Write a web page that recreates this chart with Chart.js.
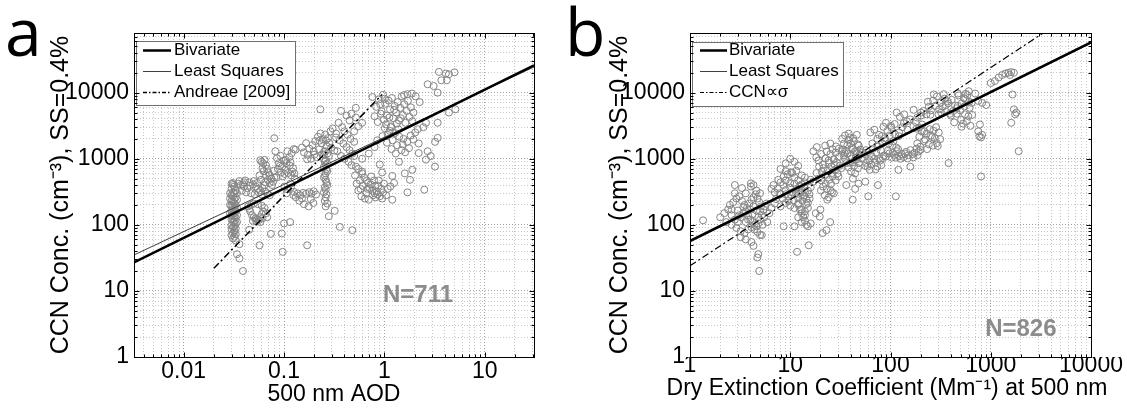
<!DOCTYPE html>
<html>
<head>
<meta charset="utf-8">
<script src="https://cdn.jsdelivr.net/npm/chart.js@4.4.0/dist/chart.umd.min.js"></script>
<style>
html, body { margin: 0; padding: 0; background: #fff; }
#wrap { position: relative; width: 1127px; height: 414px; overflow: hidden; }
canvas { position: absolute; top: 0; }
#ca { left: 0; }
#cb { left: 563px; }
.tag { position: absolute; top: -3px; font-family: "Open Sans", sans-serif; font-size: 66px; line-height: 1; color: #000; }
</style>
</head>
<body>
<div id="wrap">
  <canvas id="ca" width="563" height="414"></canvas>
  <canvas id="cb" width="564" height="414"></canvas>
  <div class="tag" style="left:5px">a</div>
  <div class="tag" style="left:565px">b</div>
</div>
<script>
// axis ticks
const yTickValues = [1, 10, 100, 1000, 10000];
const yTickLabels = ['1', '10', '100', '1000', '10000'];
const aodTickValues = [0.01, 0.1, 1, 10];
const aodTickLabels = ['0.01', '0.1', '1', '10'];
const extTickValues = [1, 10, 100, 1000, 10000];
const extTickLabels = ['1', '10', '100', '1000', '10000'];

// panel a : CCN vs AOD
const aodPoints = [
  // dense column at AOD ~0.03
  [0.030,420],[0.031,400],[0.032,380],[0.030,350],[0.033,330],[0.031,310],[0.032,300],[0.030,280],[0.031,270],[0.033,260],
  [0.032,240],[0.030,230],[0.031,225],[0.032,210],[0.033,200],[0.030,195],[0.031,190],[0.032,180],[0.031,170],[0.030,165],
  [0.033,160],[0.032,150],[0.031,145],[0.030,140],[0.032,135],[0.033,128],[0.031,125],[0.030,120],[0.032,112],[0.031,110],
  [0.033,105],[0.030,98],[0.032,95],[0.031,92],[0.033,88],[0.030,86],[0.032,80],[0.031,75],[0.033,72],[0.030,70],
  [0.032,66],[0.031,62],[0.033,58],[0.034,140],[0.034,180],[0.034,240],[0.029,300],[0.029,200],[0.029,150],[0.034,110],
  [0.031,430],[0.029,250],[0.034,300],
  [0.034,36],[0.036,31],[0.039,20],[0.036,51],[0.045,84],[0.057,49],
  // loop around 0.04-0.07
  [0.035,420],[0.037,400],[0.040,380],[0.043,360],[0.046,390],[0.049,410],[0.052,380],[0.055,350],[0.058,330],[0.061,360],
  [0.064,400],[0.038,330],[0.042,310],[0.047,300],[0.051,290],[0.056,310],[0.060,290],[0.036,460],[0.041,470],[0.045,440],
  [0.050,460],[0.054,430],[0.065,320],[0.068,300],[0.072,280],[0.040,440],[0.039,410],
  // C-shaped group
  [0.044,190],[0.046,160],[0.048,140],[0.050,130],[0.052,125],[0.054,120],[0.056,118],[0.058,130],[0.060,145],[0.062,160],
  [0.064,180],[0.047,200],[0.050,210],[0.055,205],[0.060,195],[0.066,150],[0.068,130],[0.049,115],[0.053,112],[0.058,110],
  [0.061,125],[0.045,175],
  // 0.055-0.08, 400-1000
  [0.058,950],[0.060,900],[0.062,850],[0.064,960],[0.066,800],[0.068,700],[0.070,620],[0.072,560],[0.075,500],[0.063,650],
  [0.066,560],[0.069,480],[0.072,430],[0.076,400],[0.078,450],[0.080,520],[0.061,720],[0.057,560],[0.059,480],[0.065,440],
  // 0.08-0.13
  [0.082,1300],[0.085,1020],[0.089,860],[0.092,1110],[0.096,760],[0.099,940],[0.103,680],[0.106,860],[0.110,610],[0.114,790],
  [0.118,560],[0.123,720],[0.128,500],[0.087,700],[0.093,620],[0.097,540],[0.101,590],[0.084,520],[0.079,660],[0.108,1300],
  [0.113,1060],[0.119,1210],[0.125,1400],[0.130,1370],[0.080,2050],[0.116,880],[0.121,640],[0.127,600],[0.091,780],[0.104,960],
  // 0.1-0.23, 190-420
  [0.101,380],[0.108,345],[0.117,365],[0.126,315],[0.137,298],[0.146,280],[0.155,305],[0.166,295],[0.178,312],[0.188,296],
  [0.198,322],[0.209,288],[0.142,232],[0.158,205],[0.176,190],[0.196,214],[0.151,250],[0.131,262],[0.116,420],[0.106,300],
  [0.124,282],[0.185,245],
  // low scatter
  [0.095,74],[0.097,39],[0.170,49],[0.360,93],[0.480,83],[0.320,163],[0.280,135],[0.115,110],[0.100,105],[0.074,73],
  // 0.15-0.33, 1000-2900
  [0.151,1480],[0.158,1250],[0.166,1720],[0.173,1150],[0.179,1420],[0.186,1000],[0.192,1610],[0.198,1290],[0.205,1850],[0.211,1060],
  [0.218,2150],[0.224,1390],[0.231,2420],[0.237,1710],[0.244,1980],[0.251,1280],[0.258,2320],[0.266,1560],[0.274,2050],[0.283,1740],
  [0.295,1470],[0.305,2880],[0.318,1330],[0.290,2600],[0.330,2400],[0.170,980],[0.200,1150],[0.226,1880],[0.262,1900],[0.240,1170],
  [0.230,5600],
  // column at AOD ~0.26
  [0.250,1000],[0.260,950],[0.255,900],[0.270,850],[0.260,800],[0.250,750],[0.265,700],[0.270,650],[0.260,600],[0.255,560],
  [0.250,520],[0.260,480],[0.265,440],[0.270,400],[0.255,370],[0.260,340],[0.250,310],[0.265,290],[0.260,260],[0.255,230],
  [0.270,210],[0.260,190],[0.280,1100],[0.270,1200],[0.260,1300],[0.250,1150],
  // 0.33-0.6
  [0.370,5300],[0.420,4500],[0.350,3500],[0.380,3000],[0.400,2600],[0.430,2300],[0.460,2000],[0.500,1800],[0.330,2100],[0.360,1900],
  [0.390,1700],[0.420,1500],[0.450,1350],[0.480,1200],[0.500,1100],[0.340,1300],[0.370,1100],[0.400,1000],[0.440,900],[0.470,800],
  [0.520,760],[0.550,700],[0.600,640],[0.500,2600],[0.550,3100],[0.600,3500],[0.450,3800],[0.520,4200],[0.520,5900],[0.470,4800],
  // 0.5-1.1, 230-600
  [0.51,560],[0.57,470],[0.63,520],[0.69,430],[0.74,540],[0.81,390],[0.88,470],[0.93,350],[0.55,330],[0.61,390],
  [0.66,300],[0.71,360],[0.77,280],[0.84,320],[0.90,270],[0.97,310],[0.53,420],[0.59,270],[0.64,250],[0.70,240],
  [0.76,330],[0.82,260],[0.87,390],[0.99,420],[1.04,280],[1.08,350],[0.60,600],[0.67,470],[0.73,410],[0.79,470],
  [0.86,290],[0.95,250],[0.58,350],[0.68,350],[0.80,300],
  // upper right group
  [0.76,8600],[0.83,6100],[0.88,7900],[0.94,5200],[0.97,9300],[1.02,6800],[1.06,4500],[1.10,7600],[1.14,5600],[1.19,8300],
  [1.23,4100],[1.27,6300],[1.31,5000],[1.36,7200],[1.40,3800],[1.44,5900],[1.49,8800],[1.53,4600],[1.58,6700],[1.62,3500],
  [1.67,5300],[1.72,7500],[1.78,4300],[1.84,6000],[1.90,3700],[0.80,4400],[0.86,3600],[0.92,4800],[0.99,3900],[1.04,3300],
  [1.12,4200],[1.17,3100],[1.25,5500],[1.33,3400],[1.46,4100],[1.57,9200],[1.70,9500],[1.88,9700],[2.05,8800],[2.25,7200],
  [1.95,5000],[1.01,8100],[0.91,6700],
  // 1-2.6, 1200-3500
  [1.01,2900],[1.08,2300],[1.13,2650],[1.21,1900],[1.28,2450],[1.34,1600],[1.41,2150],[1.48,1350],[1.55,2000],[1.61,1250],
  [1.69,1800],[1.76,1450],[1.83,2250],[1.95,1950],[2.03,2500],[1.06,1750],[1.18,1400],[1.30,1200],[1.52,1650],[2.15,2800],
  [2.45,3000],[2.60,3500],[2.20,1700],[0.96,2200],[1.16,3000],[1.38,2800],
  // outer scatter
  [3.5,20600],[4.1,19500],[5.0,20300],[4.4,19000],[3.7,15400],[4.2,15400],[2.7,13400],[3.1,12600],[3.4,10000],[5.1,5600],
  [4.4,5000],[3.4,3500],[3.4,2070],[2.6,970],[3.2,760],[2.5,340],[2.2,1220],[1.9,680],[1.7,310],[1.2,240],
  [1.25,430],[1.15,380],[2.7,1300],[2.9,1100],[3.2,1800],[0.90,820],[0.95,620],[1.20,550],[1.40,900],[1.60,600],
  [1.80,480],[0.60,1000],[0.70,1200],[0.80,1500],[0.85,1900]
];
const aodBivariate = [[0.0032, 27], [31, 26000]];
const aodLeastSquares = [[0.0032, 35], [31, 24500]];
const aodAndreae = [[0.02, 22], [0.95, 9400]];

// panel b : CCN vs dry extinction
const extPoints = [
  // 2-6 Mm-1
  [2.0,130],[2.2,150],[2.4,170],[2.6,140],[2.8,120],[3.0,110],[3.2,130],[3.4,150],[3.6,160],[3.8,140],
  [4.0,120],[4.2,110],[4.4,100],[4.6,95],[4.8,105],[5.0,120],[5.2,140],[5.4,170],[5.6,190],[5.8,210],
  [2.5,200],[2.7,220],[2.9,250],[3.1,270],[3.3,230],[3.5,200],[3.7,180],[3.9,210],[4.1,240],[4.3,260],
  [4.5,290],[4.7,250],[4.9,220],[5.1,190],[2.6,100],[2.9,90],[3.2,80],[3.5,75],[3.8,85],[4.1,92],
  [4.4,85],[4.7,78],[5.0,70],[3.0,165],[3.4,185],[3.8,120],[4.2,145],[4.6,165],[5.0,160],[5.5,130],
  [5.9,110],[6.2,150],[6.5,180],[2.3,110],[2.6,170],[3.1,140],[3.6,110],[4.0,170],[4.3,190],[4.8,130],
  [5.3,100],[2.8,300],[3.6,300],[4.3,400],[4.6,330],[5.0,300],[3.3,360],[2.8,400],[4.05,425],[4.05,380],
  [1.35,117],[4.1,55],[4.3,48],[4.7,32],[4.8,36],[4.9,20],[3.6,60],[3.2,65],[5.2,70],
  // 7-17 Mm-1
  [7.0,310],[7.5,355],[8.0,290],[8.5,400],[9.0,335],[9.5,270],[10,365],[10.5,310],[11,420],[11.5,350],
  [12,295],[12.5,390],[13,330],[13.5,265],[14,310],[14.5,245],[15,330],[15.5,290],[16,370],[7.2,245],
  [7.8,300],[8.4,250],[9.0,290],[9.6,230],[10.2,280],[10.8,235],[11.4,300],[12,255],[12.6,305],[13.2,230],
  [13.8,280],[14.4,205],[15,215],[15.6,250],[8.0,440],[9.0,470],[10,430],[11,520],[12,470],[13,410],
  [14,440],[8.6,540],[9.4,580],[10.5,610],[11.5,660],[7.6,480],[6.8,400],[6.5,350],[7.0,210],[8.0,190],
  [9.0,215],[10,195],[11,180],[12,210],[13,170],[14,160],[15,180],[10,1000],[11,900],[9.0,850],
  [12,780],[8.0,700],[9.0,650],[10.2,620],[13,560],[14,520],[16,480],[17,450],
  [12,200],[12.5,170],[13,150],[13.5,130],[14,115],[14.5,100],[15,95],[12,130],[13,110],[14,140],
  [19.7,133],[15.3,49],[11.7,39],[8.6,95],[11,95],[16,105],[18,150],[23,83],[21,75],[25,110],[20,170],
  // 17-35 Mm-1
  [17,1300],[18.2,1050],[19.1,940],[20.3,1180],[21.2,820],[22.4,1010],[23.1,1290],[24.3,870],[25.2,1180],[26.4,1390],
  [27.1,980],[28.3,1240],[29.2,880],[30.4,1060],[31.1,780],[32.3,720],[19.4,760],[20.6,640],[21.5,720],[22.2,560],
  [23.6,660],[24.1,940],[25.7,760],[26.2,610],[27.5,820],[28.1,690],[29.6,600],[30.2,540],[18.3,610],[19.2,500],
  [20.4,470],[22.6,420],[24.5,480],[26.6,540],[28.4,470],[21.3,380],[23.2,350],[25.3,330],[27.2,300],[22.1,280],
  [24.2,260],[26.1,310],[20.2,330],[23.4,240],[25.5,420],[18.4,1500],[22.3,1580],[25.1,1700],[28.6,1540],[30.5,1420],
  [33,1300],[35,1200],
  // 33-52 Mm-1
  [33,2000],[35.2,2250],[37.1,1600],[39.3,2100],[41.2,1450],[43.1,1850],[45.4,1300],[47.2,1650],[49.1,1150],[34.3,1700],
  [36.1,1320],[38.4,1900],[40.2,1100],[42.3,1400],[44.1,950],[46.2,1200],[48.3,860],[33.4,1380],[35.3,1000],[37.2,1200],
  [39.4,870],[41.1,1010],[43.3,780],[45.2,1050],[47.4,720],[36.3,860],[38.2,740],[40.4,640],[42.1,880],[44.3,600],
  [34.2,1120],[40.1,1700],[44.2,1300],[46.4,980],[38.3,2400],[42.4,2050],[48.2,1580],[50.1,1380],[52.2,1240],[46.1,2300],
  [36.2,400],[42.2,500],[44.4,350],[42,240],[48,420],[56,450],[56,780],
  // 52-90 Mm-1
  [52,1010],[55,1180],[57,870],[60,1260],[62,950],[65,1090],[67,1420],[70,880],[72,1220],[75,1530],
  [77,1010],[80,1340],[83,1700],[86,1120],[88,1890],[59,760],[64,820],[69,1000],[74,760],[79,940],
  [84,1020],[62,680],[71,690],[81,800],[66,1700],[74,2000],[82,2200],[75,400],[60,270],[57,1350],
  // 63-122 Mm-1
  [63,2500],[69,2750],[77,2300],[85,3050],[93,2650],[102,2950],[111,2350],[121,2200],[88,2050],[98,2250],
  [107,1850],[96,1700],[104,1580],[114,1480],[119,1400],[101,3150],[110,3350],[90,3500],
  // 90-200 band
  [90,1080],[97,1200],[103,1040],[109,1150],[116,1300],[122,1090],[129,1180],[136,1060],[143,1270],[151,1130],
  [158,1350],[166,1180],[174,1230],[182,1420],[191,1290],[199,1360],[126,1000],[148,1010],[169,1050],[94,1310],
  [113,1040],[139,1200],[158,760],[113,270],[120,680],[105,1220],[186,1130],
  // 110-220 upper
  [115,5000],[124,4300],[137,4700],[146,3700],[157,3950],[169,3100],[178,3600],[193,2950],[207,3300],[218,2600],
  [131,3000],[148,2750],[170,5500],[201,5000],[122,2500],[136,3450],[185,4200],
  // 180-310
  [182,2850],[194,2150],[205,2600],[217,1850],[229,2400],[241,1650],[253,2250],[265,1580],[277,2050],[290,1720],
  [303,2500],[313,1980],[198,1520],[222,1960],[246,2800],[268,2650],[285,3000],[232,1400],[185,1700],[296,1560],
  [260,2130],
  // 200-460 upper
  [202,4500],[214,5300],[228,4700],[241,6100],[253,5400],[266,7600],[279,6300],[291,8800],[305,5600],[318,7100],
  [332,6200],[347,8100],[361,5100],[376,6900],[392,4800],[408,7800],[423,5300],[441,6400],[458,5800],[236,7300],
  [271,9400],[301,4700],[340,9500],[372,7400],[400,4500],[250,4650],[320,5000],[355,6500],
  // 430-900
  [478,9100],[514,6900],[556,8000],[598,4400],[645,7000],[496,5400],[538,8300],[577,3700],[616,5900],[458,4800],
  [507,3900],[548,6200],[585,9200],[628,3150],[652,4600],[432,3550],[468,6300],[512,3050],[553,4700],[470,9700],
  [560,9600],[604,10500],[700,9700],[750,7500],[820,7000],[900,6500],[780,3300],[750,2600],[820,2300],[800,2100],
  [530,3400],[610,7300],
  // right outliers
  [1000,14000],[1100,15000],[1200,17000],[1300,18500],[1400,19500],[1500,20000],[1600,20500],[1700,20000],[1550,18500],[1650,9400],
  [1700,5600],[1800,5000],[1600,3500],[1900,1300],[770,2190],[800,540],[380,860],[1750,4700]
];
const extBivariate = [[1, 57], [10000, 57500]];
const extLeastSquares = [[1, 55], [10000, 56000]];
const extProportional = [[1, 24], [3400, 81600]];

const nLabelA = 'N=711';
const nLabelB = 'N=826';

function toXY(arr) { return arr.map(p => ({x: p[0], y: p[1]})); }
function isDecade(v) { const l = Math.log10(v); return Math.abs(l - Math.round(l)) < 1e-6; }
function logTicks(min, max) {
  const out = [];
  for (let e = Math.floor(Math.log10(min)); e <= Math.ceil(Math.log10(max)); e++) {
    for (let m = 1; m < 10; m++) {
      const v = m * Math.pow(10, e);
      if (v >= min * 0.9999 && v <= max * 1.0001) out.push({value: v});
    }
  }
  return out;
}
function labelFor(values, labels) {
  return function(v) {
    const i = values.findIndex(t => Math.abs(Math.log10(t) - Math.log10(v)) < 1e-6);
    return i >= 0 ? labels[i] : '';
  };
}
const gridColor = ctx => (ctx.tick && isDecade(ctx.tick.value)) ? '#a0a0a0' : '#c8c8c8';

const framePlugin = {
  id: 'frame',
  afterDraw(chart, args, opts) {
    const {ctx, chartArea: a, scales} = chart;
    ctx.save();
    // legend box
    const lg = opts.legend;
    ctx.fillStyle = '#fff';
    ctx.fillRect(lg.x, lg.y, lg.w, lg.h);
    ctx.strokeStyle = '#707070';
    ctx.lineWidth = 1;
    ctx.strokeRect(lg.x + 0.5, lg.y + 0.5, lg.w, lg.h);
    ctx.font = '17px "Liberation Sans", Arial, sans-serif';
    ctx.textBaseline = 'middle';
    ctx.textAlign = 'left';
    chart.data.datasets.filter(d => d.inLegend).forEach((d, i) => {
      const y = lg.rows[i] + 0.5;
      ctx.beginPath();
      ctx.setLineDash(d.legendDash || []);
      ctx.lineWidth = d.borderWidth;
      ctx.strokeStyle = d.borderColor;
      ctx.moveTo(lg.x1, y);
      ctx.lineTo(lg.x2, y);
      ctx.stroke();
      ctx.setLineDash([]);
      ctx.fillStyle = '#000';
      ctx.fillText(d.label, lg.tx, y);
    });
    // wide x title (not squeezed to the axis width)
    if (opts.xTitle) {
      ctx.font = opts.xTitle.size + 'px "Liberation Sans", Arial, sans-serif';
      ctx.fillStyle = '#000';
      ctx.textAlign = 'center';
      ctx.fillText(opts.xTitle.text, opts.xTitle.x, opts.xTitle.y);
    }
    // N label
    ctx.font = 'bold 24px "Liberation Sans", Arial, sans-serif';
    ctx.fillStyle = '#8c8c8c';
    ctx.textAlign = 'center';
    ctx.fillText(opts.nText, a.left + opts.nPos[0] * (a.right - a.left), a.top + opts.nPos[1] * (a.bottom - a.top));
    // box and inward ticks
    const L = Math.round(a.left) + 0.5, R = Math.round(a.right) + 0.5;
    const T = Math.round(a.top) + 0.5, B = Math.round(a.bottom) + 0.5;
    ctx.strokeStyle = '#000';
    ctx.lineWidth = 1;
    ctx.strokeRect(L, T, R - L, B - T);
    ctx.beginPath();
    scales.x.ticks.forEach(t => {
      const px = Math.round(scales.x.getPixelForValue(t.value)) + 0.5;
      const len = isDecade(t.value) ? 5 : 3;
      ctx.moveTo(px, B); ctx.lineTo(px, B - len);
      ctx.moveTo(px, T); ctx.lineTo(px, T + len);
    });
    scales.y.ticks.forEach(t => {
      const py = Math.round(scales.y.getPixelForValue(t.value)) + 0.5;
      const len = isDecade(t.value) ? 5 : 3;
      ctx.moveTo(L, py); ctx.lineTo(L + len, py);
      ctx.moveTo(R, py); ctx.lineTo(R - len, py);
    });
    ctx.stroke();
    ctx.restore();
  }
};

function makeChart(id, p) {
  const font = {family: '"Liberation Sans", Arial, sans-serif'};
  return new Chart(document.getElementById(id), {
    type: 'scatter',
    data: {
      datasets: [
        {label: 'Bivariate', data: toXY(p.biv), showLine: true, pointRadius: 0, borderColor: '#000', borderWidth: 2.5, inLegend: true},
        {label: 'Least Squares', data: toXY(p.ls), showLine: true, pointRadius: 0, borderColor: '#404040', borderWidth: 1, inLegend: true},
        {label: p.refLabel, data: toXY(p.ref), showLine: true, pointRadius: 0, borderColor: '#000', borderWidth: p.refWidth,
          borderDash: [7, 3, 2, 3], legendDash: [4, 2, 1.5, 2], inLegend: true},
        {label: 'data', data: toXY(p.points), showLine: false, pointRadius: 3.5, pointBorderWidth: 1,
          pointBorderColor: '#858585', pointBackgroundColor: 'rgba(0,0,0,0)'}
      ]
    },
    options: {
      responsive: false,
      animation: false,
      layout: {padding: {left: 0, top: 33, right: p.padRight, bottom: 0}},
      plugins: {
        legend: {display: false},
        tooltip: {enabled: false},
        frame: {legend: p.legend, nText: p.nText, nPos: p.nPos, xTitle: p.freeTitle}
      },
      scales: {
        x: {
          type: 'logarithmic', min: p.xMin, max: p.xMax,
          afterBuildTicks: s => { s.ticks = logTicks(s.min, s.max); },
          afterFit: s => { s.height = 57; },
          grid: {color: gridColor, lineWidth: 1, drawTicks: false},
          border: {display: false, dash: [1, 2]},
          ticks: {autoSkip: false, maxRotation: 0, padding: p.xTickPad, color: '#000',
            font: Object.assign({size: 23}, font), callback: labelFor(p.xTickValues, p.xTickLabels)},
          title: {display: !!p.xTitle, text: p.xTitle, color: '#000', font: Object.assign({size: 23}, font),
            padding: {top: 0, bottom: p.xTitlePad}}
        },
        y: {
          type: 'logarithmic', min: 1, max: 80000,
          afterBuildTicks: s => { s.ticks = logTicks(s.min, s.max); },
          afterFit: s => { s.width = p.yWidth; },
          grid: {color: gridColor, lineWidth: 1, drawTicks: false},
          border: {display: false, dash: [1, 2]},
          ticks: {autoSkip: false, padding: 5, color: '#000',
            font: Object.assign({size: 23}, font), callback: labelFor(yTickValues, yTickLabels)},
          title: {display: true, text: 'CCN Conc. (cm\u207B\u00B3), SS=0.4%', color: '#000',
            font: Object.assign({size: 25}, font), padding: {top: p.yTitlePad, bottom: 0}}
        }
      }
    },
    plugins: [framePlugin]
  });
}

makeChart('ca', {
  points: aodPoints, biv: aodBivariate, ls: aodLeastSquares, ref: aodAndreae,
  refLabel: 'Andreae [2009]', refWidth: 1.5,
  xMin: 0.0032, xMax: 31, xTickValues: aodTickValues, xTickLabels: aodTickLabels,
  xTitle: '500 nm AOD', xTickPad: 1, xTitlePad: 6, yWidth: 134, yTitlePad: 46, padRight: 29,
  legend: {x: 136, y: 41, w: 159, h: 64, rows: [50, 71, 92], x1: 143, x2: 171, tx: 174},
  nText: nLabelA, nPos: [0.71, 0.81]
});

makeChart('cb', {
  points: extPoints, biv: extBivariate, ls: extLeastSquares, ref: extProportional,
  refLabel: 'CCN\u221D\u03C3', refWidth: 1.2,
  xMin: 1, xMax: 10000, xTickValues: extTickValues, xTickLabels: extTickLabels,
  xTitle: '', xTickPad: -5, xTitlePad: 11, yWidth: 127, yTitlePad: 42, padRight: 36,
  freeTitle: {text: 'Dry Extinction Coefficient (Mm\u207B\u00B9) at 500 nm', size: 23, x: 324, y: 389},
  legend: {x: 129, y: 42, w: 151, h: 64, rows: [50, 71, 92], x1: 137, x2: 164, tx: 166},
  nText: nLabelB, nPos: [0.825, 0.915]
});
</script>
</body>
</html>
